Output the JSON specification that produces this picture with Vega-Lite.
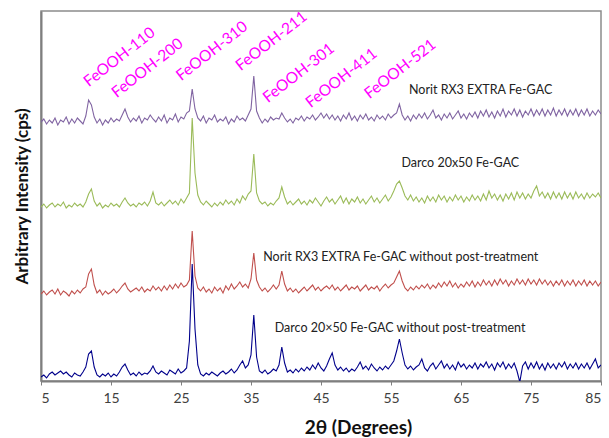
{
  "$schema": "https://vega.github.io/schema/vega-lite/v6.json",
  "width": 560,
  "height": 370,
  "autosize": "none",
  "padding": {"left": 41, "top": 11, "right": 8, "bottom": 57},
  "background": "white",
  "config": {
    "view": {"stroke": "#8c8c8c", "strokeWidth": 1.5},
    "font": "Lato"
  },
  "datasets": {
    "xrd": [
      {"x":5.0,"a":259,"b":174,"c":87,"d":4},{"x":5.4,"a":262,"b":177,"c":90,"d":6},{"x":5.8,"a":257,"b":173,"c":86,"d":3},{"x":6.2,"a":261,"b":176,"c":89,"d":7},
      {"x":6.6,"a":258,"b":178,"c":91,"d":9},{"x":7.0,"a":263,"b":174,"c":87,"d":6},{"x":7.4,"a":256,"b":177,"c":92,"d":8},{"x":7.8,"a":261,"b":175,"c":86,"d":10},
      {"x":8.2,"a":259,"b":179,"c":90,"d":7},{"x":8.6,"a":264,"b":173,"c":88,"d":9},{"x":9.0,"a":257,"b":176,"c":85,"d":6},{"x":9.4,"a":262,"b":174,"c":90,"d":4},
      {"x":9.8,"a":258,"b":178,"c":87,"d":8},{"x":10.2,"a":263,"b":175,"c":91,"d":6},{"x":10.6,"a":260,"b":177,"c":88,"d":5},{"x":11.0,"a":257,"b":174,"c":92,"d":9},
      {"x":11.4,"a":265,"b":179,"c":94,"d":14},{"x":11.8,"a":281,"b":187,"c":107,"d":27},{"x":12.2,"a":276,"b":192,"c":112,"d":30},{"x":12.6,"a":264,"b":180,"c":96,"d":14},
      {"x":13.0,"a":258,"b":175,"c":88,"d":6},{"x":13.4,"a":262,"b":178,"c":91,"d":4},{"x":13.8,"a":256,"b":173,"c":86,"d":7},{"x":14.2,"a":261,"b":176,"c":90,"d":5},
      {"x":14.6,"a":258,"b":174,"c":87,"d":8},{"x":15.0,"a":263,"b":178,"c":89,"d":4},{"x":15.4,"a":259,"b":175,"c":92,"d":7},{"x":15.8,"a":262,"b":177,"c":88,"d":5},
      {"x":16.2,"a":260,"b":174,"c":91,"d":9},{"x":16.6,"a":266,"b":179,"c":95,"d":14},{"x":17.0,"a":272,"b":183,"c":98,"d":17},{"x":17.4,"a":264,"b":178,"c":92,"d":11},
      {"x":17.8,"a":259,"b":175,"c":89,"d":6},{"x":18.2,"a":263,"b":177,"c":91,"d":8},{"x":18.6,"a":260,"b":174,"c":93,"d":5},{"x":19.0,"a":265,"b":178,"c":90,"d":9},
      {"x":19.4,"a":258,"b":176,"c":94,"d":6},{"x":19.8,"a":263,"b":179,"c":89,"d":8},{"x":20.2,"a":261,"b":175,"c":92,"d":7},{"x":20.6,"a":266,"b":180,"c":90,"d":10},
      {"x":21.0,"a":262,"b":189,"c":95,"d":15},{"x":21.4,"a":259,"b":178,"c":91,"d":9},{"x":21.8,"a":264,"b":176,"c":94,"d":7},{"x":22.2,"a":260,"b":179,"c":90,"d":10},
      {"x":22.6,"a":266,"b":175,"c":95,"d":8},{"x":23.0,"a":258,"b":178,"c":91,"d":6},{"x":23.4,"a":263,"b":181,"c":96,"d":11},{"x":23.8,"a":261,"b":177,"c":92,"d":9},
      {"x":24.2,"a":267,"b":180,"c":97,"d":7},{"x":24.6,"a":259,"b":176,"c":93,"d":12},{"x":25.0,"a":264,"b":182,"c":98,"d":8},{"x":25.4,"a":262,"b":178,"c":94,"d":10},
      {"x":25.8,"a":268,"b":183,"c":96,"d":13},{"x":26.2,"a":270,"b":188,"c":101,"d":40},{"x":26.6,"a":292,"b":263,"c":150,"d":117},{"x":27.0,"a":272,"b":208,"c":105,"d":52},
      {"x":27.4,"a":263,"b":186,"c":93,"d":16},{"x":27.8,"a":260,"b":179,"c":90,"d":7},{"x":28.2,"a":265,"b":176,"c":94,"d":5},{"x":28.6,"a":258,"b":180,"c":89,"d":8},
      {"x":29.0,"a":263,"b":177,"c":92,"d":6},{"x":29.4,"a":261,"b":174,"c":88,"d":9},{"x":29.8,"a":266,"b":178,"c":94,"d":7},{"x":30.2,"a":259,"b":175,"c":90,"d":5},
      {"x":30.6,"a":262,"b":179,"c":93,"d":8},{"x":31.0,"a":260,"b":176,"c":88,"d":10},{"x":31.4,"a":264,"b":181,"c":95,"d":7},{"x":31.8,"a":257,"b":177,"c":91,"d":9},
      {"x":32.2,"a":262,"b":180,"c":97,"d":12},{"x":32.6,"a":259,"b":176,"c":92,"d":8},{"x":33.0,"a":265,"b":182,"c":95,"d":11},{"x":33.4,"a":261,"b":178,"c":99,"d":16},
      {"x":33.8,"a":263,"b":185,"c":94,"d":20},{"x":34.2,"a":260,"b":181,"c":97,"d":13},{"x":34.6,"a":266,"b":187,"c":93,"d":16},{"x":35.0,"a":272,"b":190,"c":102,"d":26},
      {"x":35.4,"a":305,"b":227,"c":128,"d":66},{"x":35.8,"a":270,"b":188,"c":101,"d":24},{"x":36.2,"a":263,"b":180,"c":94,"d":10},{"x":36.6,"a":258,"b":177,"c":90,"d":8},
      {"x":37.0,"a":262,"b":179,"c":93,"d":11},{"x":37.4,"a":259,"b":175,"c":89,"d":7},{"x":37.8,"a":264,"b":178,"c":92,"d":9},{"x":38.2,"a":261,"b":176,"c":96,"d":12},
      {"x":38.6,"a":263,"b":180,"c":92,"d":10},{"x":39.0,"a":262,"b":183,"c":96,"d":16},{"x":39.4,"a":268,"b":194,"c":110,"d":34},{"x":39.8,"a":263,"b":184,"c":97,"d":18},
      {"x":40.2,"a":259,"b":177,"c":90,"d":9},{"x":40.6,"a":262,"b":180,"c":93,"d":11},{"x":41.0,"a":258,"b":176,"c":89,"d":8},{"x":41.4,"a":263,"b":179,"c":92,"d":12},
      {"x":41.8,"a":261,"b":182,"c":88,"d":9},{"x":42.2,"a":265,"b":177,"c":91,"d":13},{"x":42.6,"a":260,"b":180,"c":94,"d":10},{"x":43.0,"a":264,"b":176,"c":90,"d":14},
      {"x":43.4,"a":262,"b":181,"c":93,"d":11},{"x":43.8,"a":266,"b":178,"c":96,"d":16},{"x":44.2,"a":261,"b":183,"c":91,"d":12},{"x":44.6,"a":264,"b":179,"c":94,"d":18},
      {"x":45.0,"a":268,"b":175,"c":90,"d":13},{"x":45.4,"a":263,"b":180,"c":93,"d":10},{"x":45.8,"a":267,"b":184,"c":95,"d":15},{"x":46.2,"a":262,"b":179,"c":92,"d":22},
      {"x":46.6,"a":266,"b":182,"c":96,"d":28},{"x":47.0,"a":261,"b":177,"c":91,"d":16},{"x":47.4,"a":265,"b":181,"c":94,"d":11},{"x":47.8,"a":260,"b":185,"c":90,"d":14},
      {"x":48.2,"a":266,"b":178,"c":93,"d":10},{"x":48.6,"a":262,"b":183,"c":96,"d":13},{"x":49.0,"a":268,"b":177,"c":91,"d":9},{"x":49.4,"a":261,"b":182,"c":94,"d":12},
      {"x":49.8,"a":265,"b":179,"c":92,"d":10},{"x":50.2,"a":260,"b":184,"c":95,"d":14},{"x":50.6,"a":266,"b":178,"c":90,"d":19},{"x":51.0,"a":262,"b":182,"c":93,"d":12},
      {"x":51.4,"a":267,"b":177,"c":96,"d":15},{"x":51.8,"a":261,"b":181,"c":91,"d":11},{"x":52.2,"a":264,"b":185,"c":94,"d":17},{"x":52.6,"a":260,"b":179,"c":92,"d":13},
      {"x":53.0,"a":266,"b":183,"c":95,"d":10},{"x":53.4,"a":262,"b":178,"c":90,"d":14},{"x":53.8,"a":265,"b":182,"c":94,"d":11},{"x":54.2,"a":261,"b":186,"c":97,"d":15},
      {"x":54.6,"a":267,"b":180,"c":93,"d":12},{"x":55.0,"a":263,"b":184,"c":96,"d":16},{"x":55.4,"a":266,"b":190,"c":98,"d":20},{"x":55.8,"a":268,"b":197,"c":104,"d":30},
      {"x":56.2,"a":277,"b":200,"c":110,"d":42},{"x":56.6,"a":266,"b":193,"c":100,"d":28},{"x":57.0,"a":261,"b":185,"c":93,"d":16},{"x":57.4,"a":265,"b":181,"c":90,"d":12},
      {"x":57.8,"a":260,"b":186,"c":94,"d":15},{"x":58.2,"a":266,"b":180,"c":91,"d":11},{"x":58.6,"a":262,"b":184,"c":95,"d":14},{"x":59.0,"a":267,"b":179,"c":92,"d":16},
      {"x":59.4,"a":263,"b":183,"c":96,"d":22},{"x":59.8,"a":268,"b":178,"c":93,"d":13},{"x":60.2,"a":262,"b":185,"c":97,"d":10},{"x":60.6,"a":266,"b":180,"c":92,"d":15},
      {"x":61.0,"a":271,"b":184,"c":96,"d":18},{"x":61.4,"a":263,"b":179,"c":93,"d":12},{"x":61.8,"a":266,"b":186,"c":98,"d":16},{"x":62.2,"a":261,"b":181,"c":94,"d":20},
      {"x":62.6,"a":267,"b":185,"c":99,"d":13},{"x":63.0,"a":263,"b":179,"c":95,"d":17},{"x":63.4,"a":268,"b":184,"c":100,"d":12},{"x":63.8,"a":262,"b":180,"c":94,"d":16},
      {"x":64.2,"a":266,"b":186,"c":98,"d":11},{"x":64.6,"a":270,"b":181,"c":93,"d":19},{"x":65.0,"a":263,"b":185,"c":97,"d":14},{"x":65.4,"a":267,"b":179,"c":94,"d":17},
      {"x":65.8,"a":262,"b":184,"c":99,"d":12},{"x":66.2,"a":268,"b":180,"c":95,"d":16},{"x":66.6,"a":264,"b":186,"c":100,"d":13},{"x":67.0,"a":269,"b":181,"c":94,"d":18},
      {"x":67.4,"a":263,"b":185,"c":99,"d":12},{"x":67.8,"a":270,"b":180,"c":95,"d":17},{"x":68.2,"a":265,"b":187,"c":101,"d":14},{"x":68.6,"a":271,"b":181,"c":96,"d":19},
      {"x":69.0,"a":264,"b":190,"c":100,"d":13},{"x":69.4,"a":269,"b":183,"c":95,"d":17},{"x":69.8,"a":263,"b":187,"c":101,"d":11},{"x":70.2,"a":270,"b":181,"c":96,"d":18},
      {"x":70.6,"a":265,"b":186,"c":102,"d":14},{"x":71.0,"a":272,"b":180,"c":97,"d":19},{"x":71.4,"a":264,"b":187,"c":101,"d":12},{"x":71.8,"a":270,"b":182,"c":95,"d":17},
      {"x":72.2,"a":266,"b":188,"c":100,"d":13},{"x":72.6,"a":272,"b":181,"c":96,"d":18},{"x":73.0,"a":265,"b":189,"c":102,"d":10},{"x":73.4,"a":271,"b":183,"c":97,"d":-1},
      {"x":73.8,"a":264,"b":188,"c":101,"d":15},{"x":74.2,"a":270,"b":182,"c":96,"d":19},{"x":74.6,"a":266,"b":187,"c":102,"d":12},{"x":75.0,"a":272,"b":183,"c":97,"d":18},
      {"x":75.4,"a":265,"b":190,"c":101,"d":13},{"x":75.8,"a":271,"b":195,"c":96,"d":19},{"x":76.2,"a":266,"b":185,"c":102,"d":12},{"x":76.6,"a":272,"b":189,"c":97,"d":17},
      {"x":77.0,"a":265,"b":183,"c":101,"d":11},{"x":77.4,"a":271,"b":188,"c":96,"d":18},{"x":77.8,"a":266,"b":182,"c":100,"d":13},{"x":78.2,"a":273,"b":189,"c":95,"d":17},
      {"x":78.6,"a":265,"b":183,"c":100,"d":12},{"x":79.0,"a":271,"b":188,"c":96,"d":18},{"x":79.4,"a":266,"b":182,"c":101,"d":14},{"x":79.8,"a":272,"b":189,"c":95,"d":19},
      {"x":80.2,"a":265,"b":183,"c":100,"d":12},{"x":80.6,"a":271,"b":188,"c":96,"d":17},{"x":81.0,"a":266,"b":182,"c":101,"d":13},{"x":81.4,"a":272,"b":189,"c":95,"d":18},
      {"x":81.8,"a":265,"b":183,"c":100,"d":12},{"x":82.2,"a":271,"b":187,"c":96,"d":17},{"x":82.6,"a":266,"b":182,"c":101,"d":13},{"x":83.0,"a":272,"b":188,"c":95,"d":18},
      {"x":83.4,"a":265,"b":183,"c":100,"d":12},{"x":83.8,"a":270,"b":187,"c":96,"d":17},{"x":84.2,"a":266,"b":184,"c":100,"d":22},{"x":84.6,"a":271,"b":188,"c":95,"d":13},
      {"x":85.0,"a":267,"b":183,"c":99,"d":16}
    ],
    "peaks": [
      {"x":16.2,"y":324,"label":"FeOOH-110"},
      {"x":20.2,"y":313,"label":"FeOOH-200"},
      {"x":29.4,"y":330,"label":"FeOOH-310"},
      {"x":37.9,"y":340,"label":"FeOOH-211"},
      {"x":41.8,"y":308,"label":"FeOOH-301"},
      {"x":47.9,"y":303,"label":"FeOOH-411"},
      {"x":56.3,"y":312,"label":"FeOOH-521"}
    ],
    "labels": [
      {"x":67.8,"y":291,"label":"Norit RX3 EXTRA Fe-GAC"},
      {"x":64.9,"y":218,"label":"Darco 20x50 Fe-GAC"},
      {"x":56.4,"y":124,"label":"Norit RX3 EXTRA Fe-GAC without post-treatment"},
      {"x":56.3,"y":53,"label":"Darco 20×50 Fe-GAC without post-treatment"}
    ]
  },
  "encoding": {
    "x": {
      "field": "x", "type": "quantitative",
      "scale": {"domain": [5, 85], "nice": false, "zero": false},
      "axis": {
        "values": [5, 15, 25, 35, 45, 55, 65, 75, 85],
        "grid": false,
        "title": "2θ (Degrees)",
        "titleFont": "Lato", "titleFontSize": 19, "titleFontWeight": "bold", "titleColor": "#111",
        "titleX": 317, "titleY": 52, "titleAlign": "center", "titleBaseline": "alphabetic", "titleAnchor": null,
        "labelFont": "Lato", "labelFontSize": 14, "labelColor": "#404040", "labelPadding": 6,
        "domainColor": "#7f7f7f", "domainWidth": 2, "tickColor": "#7f7f7f", "tickSize": 4, "tickWidth": 1
      }
    },
    "y": {
      "field": "y", "type": "quantitative",
      "scale": {"domain": [0, 370], "nice": false, "zero": false},
      "axis": {
        "labels": false, "ticks": false, "grid": false,
        "title": "Arbitrary Intensity (cps)",
        "titleFont": "Lato", "titleFontSize": 17, "titleFontWeight": "bold", "titleColor": "#111",
        "titlePadding": 10,
        "domainColor": "#7f7f7f", "domainWidth": 2
      }
    }
  },
  "layer": [
    {
      "data": {"name": "xrd"},
      "transform": [{"fold": ["a", "b", "c", "d"], "as": ["series", "y"]}],
      "mark": {"type": "line", "clip": true},
      "encoding": {
        "color": {"field": "series", "type": "nominal",
          "scale": {"domain": ["a", "b", "c", "d"], "range": ["#8064A2", "#9BBB59", "#C0504D", "#00008B"]},
          "legend": null},
        "strokeWidth": {"field": "series", "type": "nominal",
          "scale": {"domain": ["a", "b", "c", "d"], "range": [1.1, 1.1, 1.1, 2.2]},
          "legend": null}
      }
    },
    {
      "data": {"name": "peaks"},
      "mark": {"type": "text", "angle": 322, "color": "#FF00FF", "fontSize": 15.5, "font": "Lato", "align": "center", "baseline": "middle"},
      "encoding": {"text": {"field": "label"}}
    },
    {
      "data": {"name": "labels"},
      "mark": {"type": "text", "color": "#222222", "fontSize": 12.5, "font": "Lato", "align": "center", "baseline": "middle"},
      "encoding": {"text": {"field": "label"}}
    }
  ]
}
